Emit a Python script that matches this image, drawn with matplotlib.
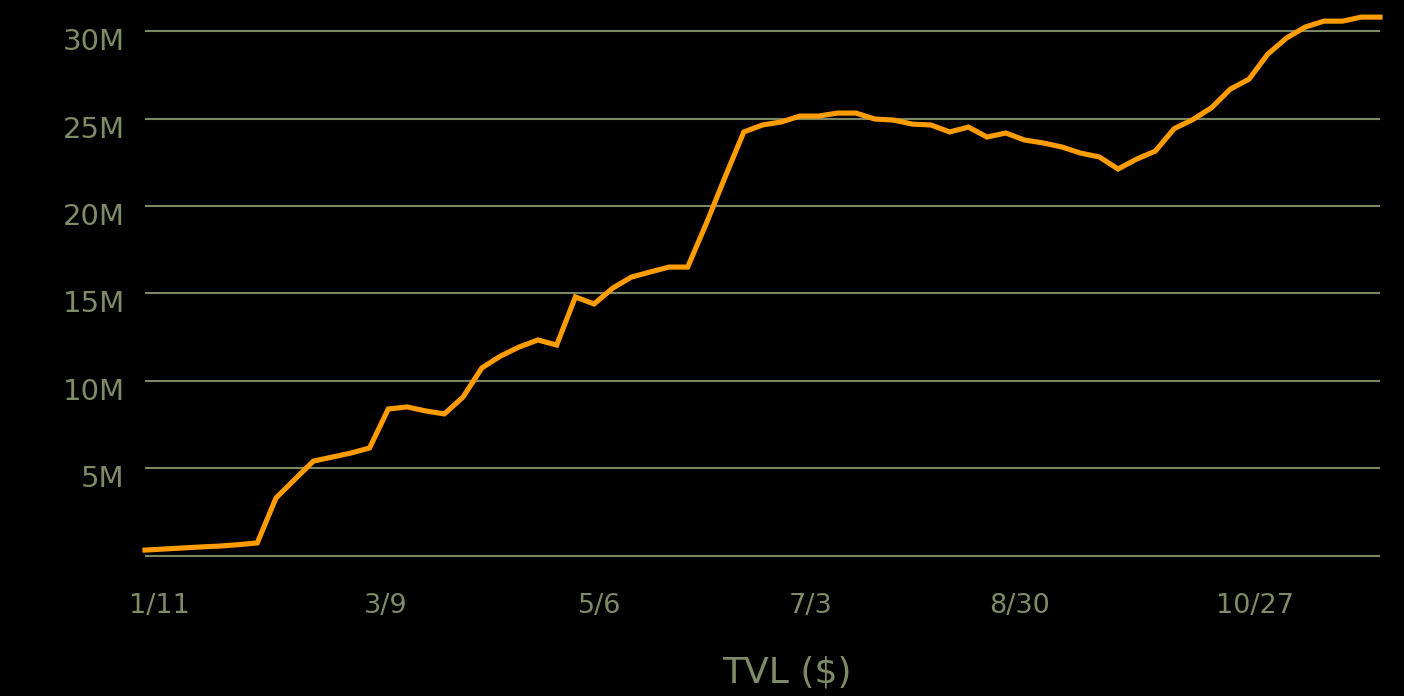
import matplotlib
matplotlib.use("Agg")
import matplotlib.pyplot as plt
from matplotlib.transforms import ScaledTranslation

# ---- data (TVL in millions of $) ----
tvl_millions = [
    0.31, 0.37, 0.43, 0.49, 0.54, 0.62, 0.72, 3.29, 4.35, 5.40,
    5.63, 5.86, 6.15, 8.38, 8.50, 8.27, 8.10, 9.07, 10.73, 11.41,
    11.93, 12.33, 12.04, 14.79, 14.39, 15.30, 15.93, 16.22, 16.50, 16.50,
    19.00, 21.65, 24.23, 24.63, 24.80, 25.14, 25.14, 25.31, 25.31, 24.97,
    24.91, 24.68, 24.63, 24.23, 24.51, 23.94, 24.17, 23.77, 23.60, 23.37,
    23.02, 22.80, 22.11, 22.68, 23.14, 24.42, 24.94, 25.62, 26.68, 27.25,
    28.68, 29.60, 30.23, 30.57, 30.57, 30.80, 30.80,
]
x_tick_labels = ["1/11", "3/9", "5/6", "7/3", "8/30", "10/27"]
x_tick_positions = [0.77, 12.87, 24.28, 35.58, 46.74, 59.32]
y_ticks = [0, 5, 10, 15, 20, 25, 30]
y_tick_labels = ["", "5M", "10M", "15M", "20M", "25M", "30M"]
axis_title = "TVL ($)"

BG = "#000000"
LINE = "#ff9c00"
GRID = "#7b8763"
TEXT = "#7f8a66"

W, H = 1404, 696
PX_PER_M = 17.48
fig = plt.figure(figsize=(W / 100, H / 100), dpi=100, facecolor=BG)
left, right = 145 / W, 1380 / W
bot_px = 565.0
bottom, top = (H - bot_px) / H, (H - 10) / H
ax = fig.add_axes([left, bottom, right - left, top - bottom], facecolor=BG)

xs = list(range(len(tvl_millions)))
ax.plot(xs, tvl_millions, color=LINE, lw=3.7, solid_joinstyle="miter",
        clip_on=False, zorder=3)

ax.set_xlim(0, len(tvl_millions) - 1)
ax.set_ylim(-(bot_px - 555.5) / PX_PER_M, (555.5 - 10) / PX_PER_M)

ax.set_yticks(y_ticks)
ax.set_yticklabels(y_tick_labels)
ax.set_xticks(x_tick_positions)
ax.set_xticklabels(x_tick_labels)

ax.grid(axis="y", color=GRID, lw=1.5, zorder=1)
ax.grid(axis="x", visible=False)
for s in ax.spines.values():
    s.set_visible(False)

ax.tick_params(axis="y", length=0, pad=14.5, labelsize=21, labelcolor=TEXT)
ax.tick_params(axis="x", length=0, pad=20, labelsize=19.5, labelcolor=TEXT)
for lbl in ax.get_yticklabels():
    lbl.set_fontfamily("DejaVu Sans")
    lbl.set_transform(lbl.get_transform() +
                      ScaledTranslation(0, -8 / 100, fig.dpi_scale_trans))
for lbl in ax.get_xticklabels():
    lbl.set_fontfamily("DejaVu Sans")

fig.text(787 / W, (H - 673) / H, axis_title, color=TEXT, fontsize=26,
         family="DejaVu Sans", ha="center", va="center")

fig.savefig("out.png", dpi=100, facecolor=BG)
